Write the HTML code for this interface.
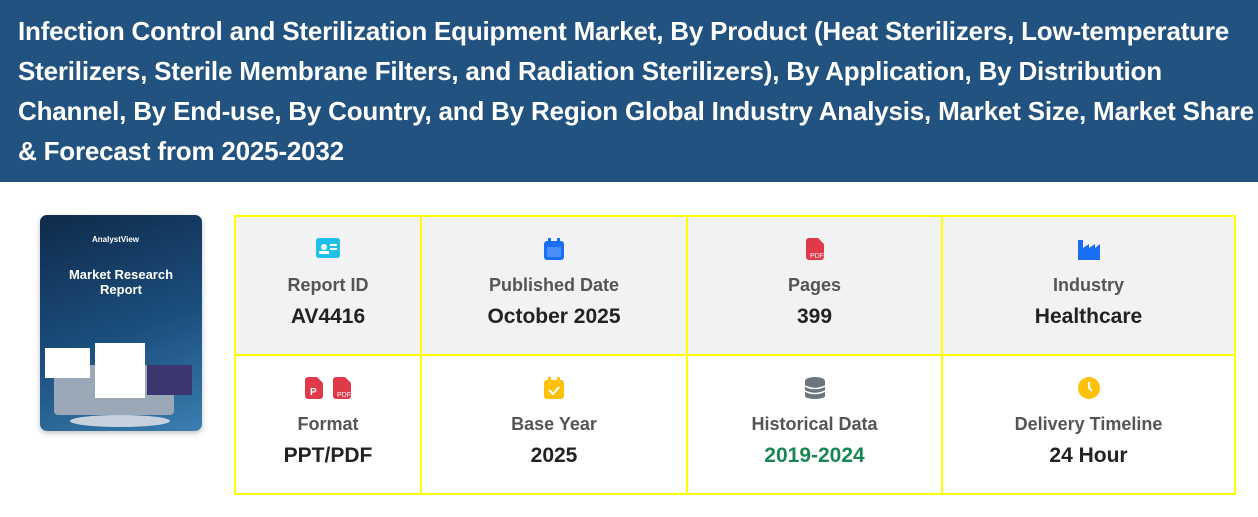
<!DOCTYPE html>
<html><head><meta charset="utf-8"><style>
*{margin:0;padding:0;box-sizing:border-box}
body{width:1258px;height:517px;background:#fff;font-family:"Liberation Sans",sans-serif;overflow:hidden;position:relative}
.hdr{position:absolute;left:0;top:0;width:1258px;height:182px;background:#22527f;color:#fff;font-weight:bold;font-size:26px;line-height:40px;padding:11px 0 0 18px;white-space:nowrap;letter-spacing:-0.2px}
.img{position:absolute;left:40px;top:215px;width:162px;height:216px;border-radius:7px;overflow:hidden;background:linear-gradient(160deg,#0f2a4a 0%,#1b4f7e 55%,#3a7fb0 100%);box-shadow:0 2px 6px rgba(0,0,0,.25)}
table{position:absolute;left:234px;top:215px;border-collapse:collapse;width:1002px}
td{border:2px solid #ffff00;text-align:center;vertical-align:top;height:139px;padding-top:21px}
tr.g td{background:#f2f2f2}
.ic{height:22px;margin-bottom:14px;display:flex;justify-content:center;gap:10px}
.l{font-size:18px;font-weight:bold;color:#555;line-height:22px}
.v{font-size:21px;font-weight:bold;color:#222;line-height:26px;margin-top:8px}
</style></head><body>
<div class="hdr">Infection Control and Sterilization Equipment Market, By Product (Heat Sterilizers, Low-temperature<br>Sterilizers, Sterile Membrane Filters, and Radiation Sterilizers), By Application, By Distribution<br>Channel, By End-use, By Country, and By Region Global Industry Analysis, Market Size, Market Share<br>&amp; Forecast from 2025-2032</div>
<div class="img">
<div style="position:absolute;left:0;width:162px;top:52px;text-align:center;color:#fff;font-weight:bold;font-size:13px;line-height:15px">Market Research<br>Report</div>
<div style="position:absolute;left:52px;top:20px;color:#fff;font-weight:bold;font-size:8px">AnalystView</div>
<div style="position:absolute;left:14px;top:150px;width:120px;height:50px;background:#9aa8b8;border-radius:4px"></div>
<div style="position:absolute;left:55px;top:128px;width:50px;height:55px;background:#fff"></div>
<div style="position:absolute;left:5px;top:133px;width:45px;height:30px;background:#fff"></div>
<div style="position:absolute;left:107px;top:150px;width:45px;height:30px;background:#3b3570"></div>
<div style="position:absolute;left:30px;top:200px;width:100px;height:12px;border-radius:50%;background:#c8d2de"></div>
</div>
<table>
<tr class="g">
<td style="width:186px"><div class="ic"><svg width="24" height="20"><rect width="24" height="20" rx="3" fill="#1ec0e8"/><circle cx="8" cy="9" r="3" fill="#fff"/><rect x="3" y="13" width="10" height="3" fill="#fff"/><rect x="14" y="6" width="7" height="2" fill="#fff"/><rect x="14" y="10" width="7" height="2" fill="#fff"/></svg></div><div class="l">Report ID</div><div class="v">AV4416</div></td>
<td style="width:266px"><div class="ic"><svg width="20" height="22"><rect y="3" width="20" height="19" rx="3" fill="#1a6ef5"/><rect x="4" width="3" height="5" fill="#1a6ef5"/><rect x="13" width="3" height="5" fill="#1a6ef5"/><rect x="3" y="9" width="14" height="10" fill="#6aa3ff" opacity=".6"/></svg></div><div class="l">Published Date</div><div class="v">October 2025</div></td>
<td style="width:255px"><div class="ic"><svg width="18" height="22"><path d="M0 3a3 3 0 0 1 3-3h9l6 6v13a3 3 0 0 1-3 3H3a3 3 0 0 1-3-3z" fill="#e03a4a"/><text x="4" y="20" font-size="7" fill="#fff" font-family="Liberation Sans">PDF</text></svg></div><div class="l">Pages</div><div class="v">399</div></td>
<td><div class="ic"><svg width="22" height="22"><path d="M0 2h5v8l6-4v4l6-4v4l5-4v16H0z" fill="#1a6ef5"/></svg></div><div class="l">Industry</div><div class="v">Healthcare</div></td>
</tr>
<tr>
<td><div class="ic"><svg width="18" height="22"><path d="M0 3a3 3 0 0 1 3-3h9l6 6v13a3 3 0 0 1-3 3H3a3 3 0 0 1-3-3z" fill="#e03a4a"/><text x="5" y="18" font-size="10" font-weight="bold" fill="#fff" font-family="Liberation Sans">P</text></svg><svg width="18" height="22"><path d="M0 3a3 3 0 0 1 3-3h9l6 6v13a3 3 0 0 1-3 3H3a3 3 0 0 1-3-3z" fill="#e03a4a"/><text x="4" y="20" font-size="7" fill="#fff" font-family="Liberation Sans">PDF</text></svg></div><div class="l">Format</div><div class="v">PPT/PDF</div></td>
<td><div class="ic"><svg width="20" height="22"><rect y="3" width="20" height="19" rx="3" fill="#ffc107"/><rect x="4" width="3" height="5" fill="#ffc107"/><rect x="13" width="3" height="5" fill="#ffc107"/><path d="M5 13l4 4 6-7" stroke="#fff" stroke-width="2" fill="none"/></svg></div><div class="l">Base Year</div><div class="v">2025</div></td>
<td><div class="ic"><svg width="20" height="22"><ellipse cx="10" cy="4" rx="10" ry="4" fill="#6c757d"/><rect y="4" width="20" height="15" fill="#6c757d"/><ellipse cx="10" cy="19" rx="10" ry="3" fill="#6c757d"/><path d="M0 9q10 5 20 0M0 14q10 5 20 0" stroke="#fff" stroke-width="1.5" fill="none"/></svg></div><div class="l">Historical Data</div><div class="v" style="color:#198754">2019-2024</div></td>
<td><div class="ic"><svg width="22" height="22"><circle cx="11" cy="11" r="11" fill="#ffc107"/><path d="M11 5v6l3 3" stroke="#fff" stroke-width="2" fill="none"/></svg></div><div class="l">Delivery Timeline</div><div class="v">24 Hour</div></td>
</tr>
</table>
</body></html>
